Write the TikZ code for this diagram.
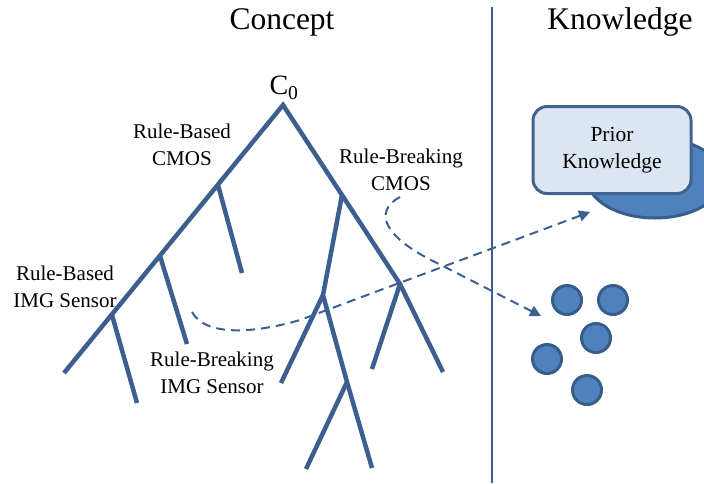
\documentclass[tikz,border=0pt]{standalone}
\usepackage{fontspec}
\setmainfont{Liberation Serif}
\usetikzlibrary{arrows.meta}
\definecolor{treeblue}{HTML}{3C5F8F}
\definecolor{boxedge}{HTML}{41648F}
\definecolor{boxfill}{HTML}{DCE6F2}
\definecolor{dotfill}{HTML}{4F81BD}
\definecolor{dotedge}{HTML}{385D8A}
\tikzstyle{branch} = [draw=treeblue, line width=4.5pt]
\tikzstyle{lbl} = [align=center, inner sep=0pt, font=\fontsize{21}{27}\selectfont]
\tikzstyle{head} = [inner sep=0pt, font=\fontsize{31.5}{32}\selectfont]
\tikzstyle{flow} = [draw=treeblue, line width=2pt, dash pattern=on 9pt off 6pt,
    -{Triangle[length=11pt,width=11pt]}]
\tikzstyle{dot} = [circle, draw=dotedge, fill=dotfill, line width=3pt,
    minimum size=29pt, inner sep=0pt]

\begin{document}
\begin{tikzpicture}[x=1pt,y=-1pt]
  \useasboundingbox (0,0) rectangle (704,483);
  \clip (0,0) rectangle (704,483);

  % headings and divider
  \node[head] (concept)   at (282,22) {Concept};
  \node[head] (knowledge) at (620,22) {Knowledge};
  \coordinate (divtop) at (492,7);
  \coordinate (divbot) at (492,483);
  \draw[treeblue, line width=1.5pt] (divtop) -- (divbot);

  % tree
  \coordinate (c0) at (283,105);
  \coordinate (l1) at (218,185);
  \coordinate (l2) at (160,256);
  \coordinate (l3) at (112,315);
  \coordinate (lend) at (64,373);
  \coordinate (l1end) at (242,273);
  \coordinate (l2end) at (187,344);
  \coordinate (l3end) at (137,403);
  \coordinate (r1) at (342,195);
  \coordinate (r2) at (400,284);
  \coordinate (r3) at (323,295);
  \coordinate (r4) at (347,382);
  \coordinate (r2a) at (372,369);
  \coordinate (r2b) at (443,372);
  \coordinate (r3a) at (281,383);
  \coordinate (r4a) at (306,469);
  \coordinate (r4b) at (372,468);

  \draw[branch] (lend) -- (c0) -- (r1) -- (r2) -- (r2b);
  \draw[branch] (l1) -- (l1end);
  \draw[branch] (l2) -- (l2end);
  \draw[branch] (l3) -- (l3end);
  \draw[branch] (r2) -- (r2a);
  \draw[branch] (r1) -- (r3) -- (r4) -- (r4b);
  \draw[branch] (r3) -- (r3a);
  \draw[branch] (r4) -- (r4a);

  \node[inner sep=0pt, font=\fontsize{28}{28}\selectfont] (c0lbl) at (284,88)
    {C\textsubscript{0}};
  \node[lbl] (rbcmos)  at (182,145) {Rule-Based\\CMOS};
  \node[lbl] (rkcmos)  at (401,170) {Rule-Breaking\\CMOS};
  \node[lbl] (rbimg)   at (65,287)  {Rule-Based\\IMG Sensor};
  \node[lbl] (rkimg)   at (212,373) {Rule-Breaking\\IMG Sensor};

  % knowledge side
  \draw[dotedge, fill=dotfill, line width=3pt] (655,178) ellipse (68 and 40);
  \node[draw=boxedge, fill=boxfill, line width=3pt, rounded corners=14pt,
        minimum width=158pt, minimum height=87pt, lbl,
        font=\fontsize{21.5}{27}\selectfont] (prior) at (612,150)
    {Prior\\Knowledge};

  \node[dot] (k1) at (567,300) {};
  \node[dot] (k2) at (613,300) {};
  \node[dot] (k3) at (596,338) {};
  \node[dot] (k4) at (547,359) {};
  \node[dot] (k5) at (587,390) {};

  % dashed links
  \coordinate (s1) at (400,197);
  \coordinate (m1) at (437,263);
  \coordinate (e1) at (541,316);
  \coordinate (s2) at (192,312);
  \coordinate (m2) at (300,320);
  \coordinate (e2) at (590,212);
  \draw[flow] (s1) .. controls (372,212) and (385,238) .. (m1) -- (e1);
  \draw[flow] (s2) .. controls (205,336) and (252,334) .. (m2) -- (e2);
\end{tikzpicture}
\end{document}
